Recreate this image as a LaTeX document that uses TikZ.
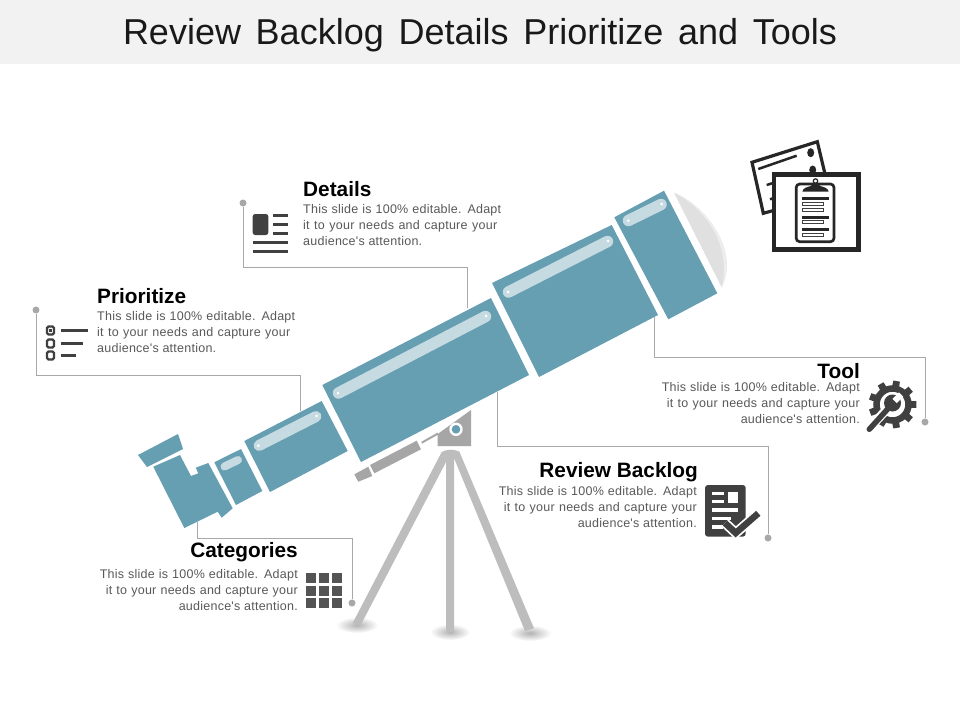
\documentclass[tikz,border=0pt]{standalone}
\usepackage{fontspec}
\setmainfont{Liberation Sans}
\newfontfamily\bodyfont[LetterSpace=2]{Liberation Sans}
\definecolor{teal1}{HTML}{669EB2}
\definecolor{hilite}{HTML}{C6DAE2}
\definecolor{conn}{HTML}{A8A8A8}
\definecolor{legc}{HTML}{BDBDBD}
\definecolor{mount}{HTML}{A6A6A6}
\definecolor{icon}{HTML}{404040}
\definecolor{txtg}{HTML}{595959}
\definecolor{bar}{HTML}{F2F2F2}
\tikzset{
  tube/.style={fill=teal1},
  glint/.style={draw=hilite,line width=#1,line cap=round},
  connector/.style={draw=conn,line width=1pt},
  dotnode/.style={circle,fill=conn,minimum size=7pt,inner sep=0pt},
  headtext/.style={inner sep=0pt,font=\fontsize{20.8}{24}\bfseries\selectfont,text=black},
  bodyleft/.style={inner sep=0pt,align=left,anchor=north west,text=txtg,font=\fontsize{12.5}{16}\bodyfont\selectfont},
  bodyright/.style={inner sep=0pt,align=right,anchor=north east,text=txtg,font=\fontsize{12.5}{16}\bodyfont\selectfont},
  iconline/.style={draw=icon,line width=3pt},
  clipbar/.style={draw=black!85,line width=2.7pt},
  clipbox/.style={draw=black!75,line width=1pt,fill=white},
}
\begin{document}
\begin{tikzpicture}[x=1pt,y=-1pt]
\useasboundingbox (0,0) rectangle (960,720);
\fill[white] (0,0) rectangle (960,720);
% title
\fill[bar] (0,0) rectangle (960,64);
\node[inner sep=0pt,font=\fontsize{36}{42}\selectfont,text=black!90] (title) at (480,35) {\hbox to 714pt{Review Backlog Details Prioritize and Tools}};

% connectors
\node[dotnode] (dDetails) at (243,203) {};
\node[dotnode] (dPrior) at (36,310) {};
\node[dotnode] (dTool) at (925,422) {};
\node[dotnode] (dReview) at (768,538) {};
\node[dotnode] (dCat) at (352,603) {};
\coordinate (tDetails) at (467,308);
\coordinate (tPrior) at (300,411);
\coordinate (tTool) at (654,317);
\coordinate (tReview) at (497,392);
\coordinate (tCat) at (197,522);
\draw[connector] (dDetails) |- (tDetails |- 0,267) -- (tDetails);
\draw[connector] (dPrior) |- (tPrior |- 0,375) -- (tPrior);
\draw[connector] (dTool) |- (tTool |- 0,357) -- (tTool);
\draw[connector] (dReview) |- (tReview |- 0,446) -- (tReview);
\draw[connector] (dCat) |- (tCat |- 0,538) -- (tCat);

% shadows
\shade[inner color=black!30,outer color=white] (357,625) ellipse [x radius=21pt,y radius=8pt];
\shade[inner color=black!30,outer color=white] (450,632) ellipse [x radius=20pt,y radius=8pt];
\shade[inner color=black!30,outer color=white] (530,633) ellipse [x radius=21pt,y radius=8pt];

% tripod
\fill[legc] (441.7,452) .. controls (448,449) and (453,449) .. (459.3,451.5) -- (534,628.3) -- (525,631) -- (454,458) -- (454,632) -- (446,632) -- (446,462) -- (360.7,625) -- (352.7,623) -- cycle;

% mount
\fill[mount] (437.7,434) -- (471,410) -- (471,446) -- (437.7,446) -- cycle;
\fill[white] (456,429.3) circle [radius=6.7pt];
\fill[teal1] (456,429.3) circle [radius=4.3pt];
\draw[mount,line width=2pt] (421.7,442.7) -- (438,433.5);
\fill[mount] (370,465) -- (416.7,440.7) -- (421,449.3) -- (374.3,473.3) -- cycle;
\fill[mount] (354.3,474.3) -- (368.3,466.7) -- (372.3,476) -- (358.3,481.7) -- cycle;

% lens
\fill[black!12] (674,192.7) .. controls (705,205) and (740,250) .. (721.7,287.3) -- cycle;
\fill[black!7] (674,192.7) .. controls (705,205) and (740,250) .. (721.7,287.3) .. controls (732,245) and (705,208) .. (674,192.7) -- cycle;

% telescope tube
\fill[tube] (138,455) -- (178,434) -- (183,449) -- (147,467) -- cycle;
\fill[tube] (153.3,466.7) -- (180,455) -- (191,476) -- (198.3,473.3) -- (195.7,467.7) -- (208.3,463) -- (232.7,508.3) -- (221.7,517.7) -- (217.7,511.7) -- (184.3,528) -- cycle;
\fill[tube] (214.3,462.3) -- (241,449) -- (262.3,491) -- (236,505) -- cycle;
\fill[tube] (244.3,441) -- (321.7,401) -- (347.7,451) -- (270,492) -- cycle;
\fill[tube] (322.3,385) -- (491,298) -- (529,375) -- (361,462) -- cycle;
\fill[tube] (492,283) -- (611.7,225) -- (658,315) -- (539,377) -- cycle;
\fill[tube] (614.3,217.3) -- (664,190.7) -- (717.3,293.3) -- (668.3,319.3) -- cycle;
% glints
\draw[glint=8pt] (224.5,466.5) -- (238,460);
\draw[glint=11pt] (259,445.5) -- (316,416.5);
\draw[glint=11.5pt] (338.5,393) -- (485.5,316.5);
\draw[glint=11.5pt] (508.5,292) -- (607.5,241.5);
\draw[glint=11.5pt] (628.5,220.5) -- (661,204.5);
\foreach \p in {(258.3,445.7),(316.7,416),(338,393),(486,316),(508,292),(608,241),(628.3,220.7),(661.7,204)}
  \fill[white] \p circle [radius=1.5pt];

% documents icon
\draw[draw=black!85,line width=3.2pt,fill=white] (752,162.3) -- (817.3,141.7) -- (830,195) -- (763.3,213.3) -- cycle;
\fill[black!85] (810.7,152.7) ellipse [x radius=3.5pt,y radius=4.5pt];
\fill[black!85] (812.7,170) ellipse [x radius=3.5pt,y radius=4.5pt];
\draw[black!85,line width=2.5pt] (758.3,169) -- (796.7,155.7);
\draw[black!85,line width=2.5pt] (766.7,185) -- (772,183.3);
\draw[black!85,line width=2.5pt] (770,199.3) -- (773,198.3);
\draw[draw=black!85,line width=4.6pt,fill=white] (774,174.3) rectangle (858.5,249.4);
\draw[draw=black!85,line width=2.7pt,fill=white,rounded corners=3.5pt] (796.2,184) rectangle (834,241.7);
\fill[black!85] (802.3,191.7) .. controls (803,188) and (807,187) .. (811,186) -- (813,182.5) -- (818,182.5) -- (820,186) .. controls (824,187) and (828,188) .. (828.7,191.7) -- cycle;
\draw[black!85,line width=1.2pt,fill=white] (815.5,181) circle [radius=2.2pt];
\foreach \y in {198.3,217.3,229.3} \draw[clipbar] (802.3,\y) -- (829.3,\y);
\foreach \y in {202.5,208.7,220.9,233.5} \draw[clipbox] (802.6,\y) rectangle (823.3,\y+3);

% details icon
\fill[icon] (252.7,214) [rounded corners=2.5pt] rectangle (268.3,235);
\foreach \y in {215.7,224.7,233.7} \draw[iconline] (273.3,\y) -- (288.3,\y);
\foreach \y in {242.7,251.3} \draw[iconline] (252.7,\y) -- (288.3,\y);

% prioritize icon
\foreach \a/\b in {326.5/334.5,339.5/347.5,351.5/359.5}
  \draw[icon,line width=2.3pt,rounded corners=1.5pt] (47,\a) rectangle (54,\b);
\fill[icon] (49,329) rectangle (52,332);
\draw[iconline] (60.7,330.7) -- (87.7,330.7);
\draw[iconline] (60.7,343) -- (82.7,343);
\draw[iconline] (60.7,355.3) -- (76,355.3);

% tool icon
\begin{scope}[shift={(892.5,404.5)}]
  \draw[icon,line width=6.5pt] (0,0) circle [radius=16pt];
  \foreach \a in {0,40,...,320}
    \fill[icon] (\a-12:17pt) -- (\a-8:24pt) -- (\a+8:24pt) -- (\a+12:17pt) -- cycle;
\end{scope}
\draw[white,line width=9pt] (860,438) -- (890,406);
\fill[white] (892.5,403) circle [radius=10.5pt];
\draw[icon,line width=5.5pt,line cap=round] (869.3,429.3) -- (888.3,408.3);
\fill[icon] (892.5,403) circle [radius=8.5pt];
\draw[white,line width=6pt] (894.5,401) -- (901,394.5);

% review icon
\fill[icon,rounded corners=3pt] (705,485) rectangle (745.7,536.7);
\fill[white] (712.3,491.7) rectangle (723.5,495);
\fill[white] (712.3,500) rectangle (723.5,503.3);
\fill[white] (728.3,491.7) rectangle (738.3,503.3);
\fill[white] (712.3,508.3) rectangle (738.3,511.7);
\fill[white] (712.3,516.5) rectangle (731,520);
\fill[white] (712.3,525) rectangle (723,529);
\draw[white,line width=10pt] (725,523) -- (735.7,533) -- (758.3,513.3);
\draw[icon,line width=6.5pt] (725,523) -- (735.7,533) -- (758.3,513.3);

% categories icon
\foreach \x in {306,319,332}
  \foreach \y in {573.3,585.7,598.3}
    \fill[black!67] (\x,\y) rectangle (\x+10,\y+10);

% texts
\node[headtext,anchor=west] (hDetails) at (303,189) {Details};
\node[bodyleft] (bDetails) at (303,204.5) {\hbox to 198pt{This slide is 100\% editable. Adapt}\\\hbox to 194pt{it to your needs and capture your}\\audience's attention.};
\node[headtext,anchor=west] (hPrior) at (97,296) {Prioritize};
\node[bodyleft] (bPrior) at (97,311) {\hbox to 198pt{This slide is 100\% editable. Adapt}\\\hbox to 193pt{it to your needs and capture your}\\audience's attention.};
\node[headtext,anchor=east] (hTool) at (860,371) {Tool};
\node[bodyright] (bTool) at (860,382.5) {\hbox to 198pt{This slide is 100\% editable. Adapt}\\\hbox to 193pt{it to your needs and capture your}\\audience's attention.};
\node[headtext,anchor=east] (hReview) at (698,472) {Review Backlog};
\node[bodyright] (bReview) at (697,486) {\hbox to 198pt{This slide is 100\% editable. Adapt}\\\hbox to 193pt{it to your needs and capture your}\\audience's attention.};
\node[headtext,anchor=east] (hCat) at (298,552) {Categories};
\node[bodyright] (bCat) at (298,569) {\hbox to 198pt{This slide is 100\% editable. Adapt}\\\hbox to 192pt{it to your needs and capture your}\\audience's attention.};
\end{tikzpicture}
\end{document}
